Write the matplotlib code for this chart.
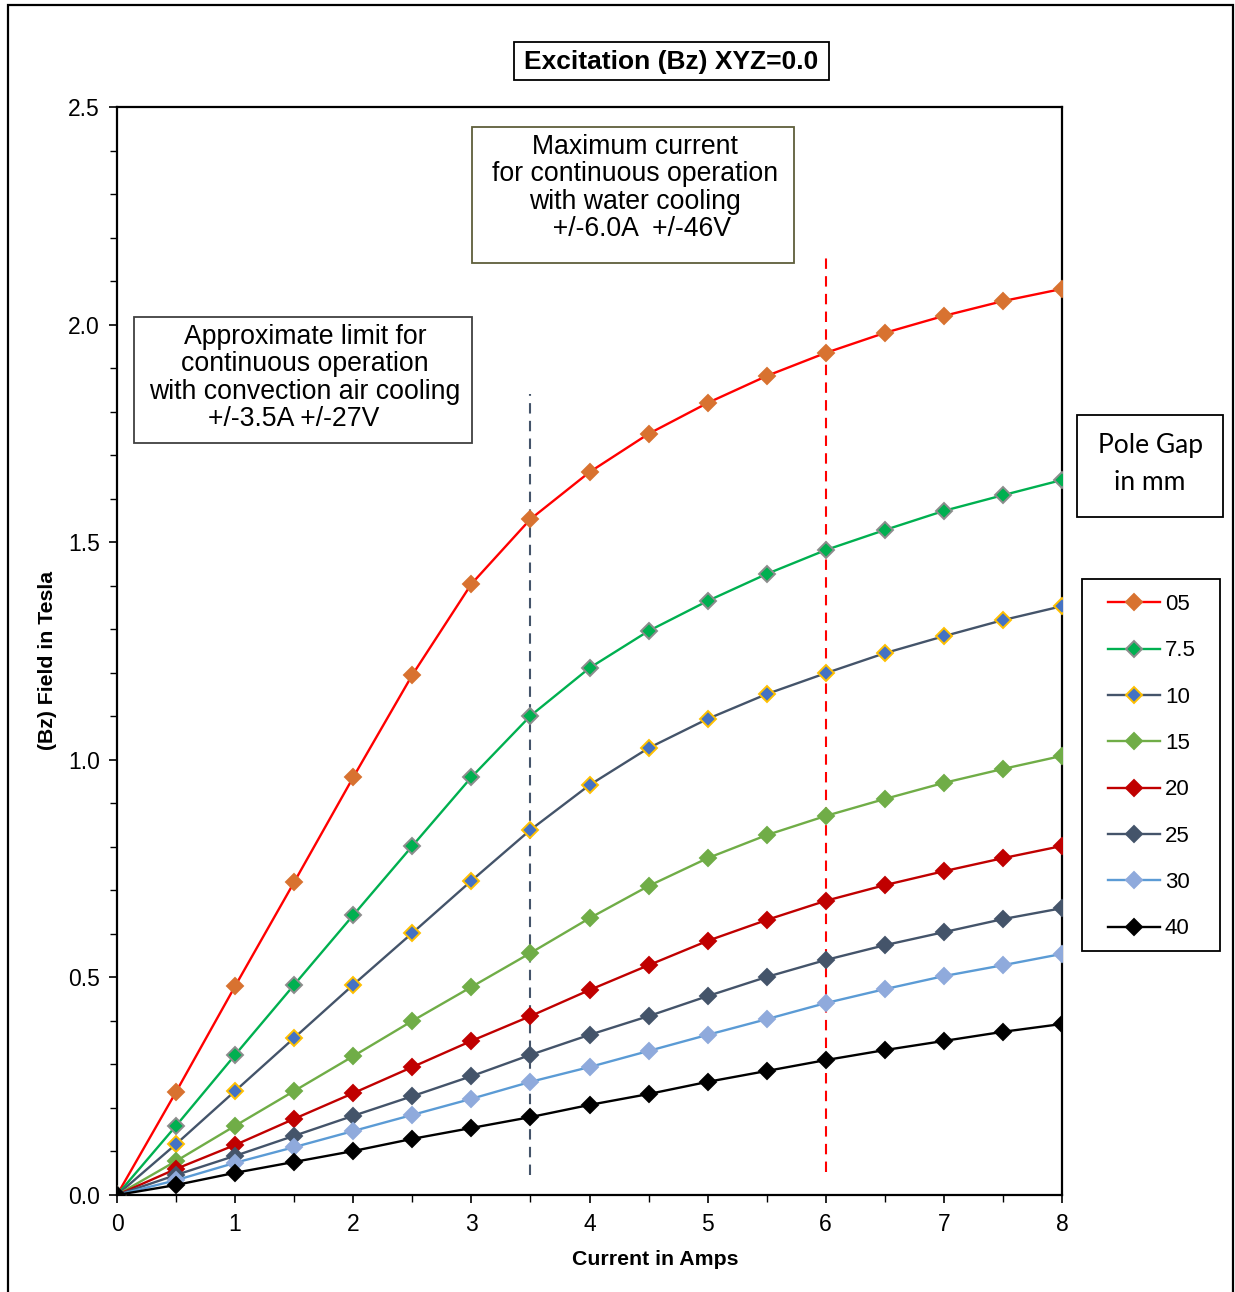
import matplotlib
matplotlib.use('Agg')
import matplotlib.pyplot as plt
from matplotlib.patches import Rectangle
from matplotlib.ticker import MultipleLocator, FormatStrFormatter

plt.rcParams['font.family'] = ['Liberation Sans', 'DejaVu Sans']

# Current in amps, sampled every 0.5 A
current = [0, 0.5, 1, 1.5, 2, 2.5, 3, 3.5, 4, 4.5, 5, 5.5, 6, 6.5, 7, 7.5, 8]

# Field in tesla for each pole gap (mm)
gap_labels = ['05', '7.5', '10', '15', '20', '25', '30', '40']
bz_05 = [0, 0.237, 0.480, 0.719, 0.960, 1.195, 1.404, 1.553, 1.661, 1.749, 1.820, 1.882, 1.935, 1.981, 2.020, 2.054, 2.082]
bz_7p5 = [0, 0.159, 0.322, 0.483, 0.643, 0.802, 0.960, 1.101, 1.211, 1.296, 1.365, 1.427, 1.482, 1.528, 1.572, 1.608, 1.643]
bz_10 = [0, 0.117, 0.239, 0.361, 0.483, 0.602, 0.722, 0.839, 0.942, 1.027, 1.094, 1.151, 1.199, 1.245, 1.284, 1.321, 1.353]
bz_15 = [0, 0.078, 0.159, 0.239, 0.319, 0.400, 0.478, 0.556, 0.636, 0.710, 0.774, 0.827, 0.871, 0.910, 0.947, 0.979, 1.009]
bz_20 = [0, 0.060, 0.115, 0.175, 0.234, 0.294, 0.354, 0.411, 0.471, 0.528, 0.584, 0.632, 0.676, 0.712, 0.744, 0.774, 0.802]
bz_25 = [0, 0.046, 0.090, 0.136, 0.182, 0.227, 0.273, 0.322, 0.368, 0.411, 0.457, 0.501, 0.540, 0.574, 0.604, 0.634, 0.659]
bz_30 = [0, 0.034, 0.074, 0.110, 0.147, 0.184, 0.221, 0.260, 0.294, 0.331, 0.368, 0.404, 0.441, 0.473, 0.503, 0.528, 0.554]
bz_40 = [0, 0.023, 0.051, 0.076, 0.101, 0.129, 0.154, 0.179, 0.207, 0.232, 0.260, 0.285, 0.310, 0.333, 0.354, 0.375, 0.393]
series = [bz_05, bz_7p5, bz_10, bz_15, bz_20, bz_25, bz_30, bz_40]

# (line colour, marker fill, marker edge)
styles = [
    ('#FF0000', '#D87230', '#D87230'),
    ('#00B050', '#00B050', '#8C8C8C'),
    ('#44546A', '#4472C4', '#FFC000'),
    ('#70AD47', '#70AD47', '#70AD47'),
    ('#C00000', '#C00000', '#C00000'),
    ('#44546A', '#44546A', '#44546A'),
    ('#5B9BD5', '#8FAADC', '#8FAADC'),
    ('#000000', '#000000', '#000000'),
]

# limit markers: (current, y bottom, y top, colour)
limit_aircool = (3.5, 0.046, 1.84, '#44546A')
limit_water = (6.0, 0.053, 2.165, '#FF0000')

W, H = 1235, 1292
fig = plt.figure(figsize=(W / 100, H / 100), dpi=100)
ax = fig.add_axes([117 / W, 1 - 1195 / H, (1062 - 117) / W, (1195 - 107) / H])

for vals, lab, (lc, mf, me) in zip(series, gap_labels, styles):
    ax.plot(current, vals, color=lc, lw=1.7, marker='D', markersize=8,
            markerfacecolor=mf, markeredgecolor=me, markeredgewidth=1.4,
            label=lab, zorder=3)

for xv, y0, y1, c in [limit_aircool, limit_water]:
    ax.plot([xv, xv], [y0, y1], color=c, lw=1.5, ls=(0, (5, 3.5)), zorder=2)

ax.set_xlim(0, 8)
ax.set_ylim(0, 2.5)
ax.xaxis.set_major_locator(MultipleLocator(1))
ax.xaxis.set_minor_locator(MultipleLocator(0.5))
ax.yaxis.set_major_locator(MultipleLocator(0.5))
ax.yaxis.set_minor_locator(MultipleLocator(0.1))
ax.yaxis.set_major_formatter(FormatStrFormatter('%.1f'))
ax.tick_params(which='major', direction='out', length=6, width=1.2, labelsize=16.5, pad=7)
ax.tick_params(which='minor', direction='out', length=5, width=1.0)
ax.tick_params(axis='y', which='major', pad=6.5)
for sp in ax.spines.values():
    sp.set_linewidth(1.6)
    sp.set_color('black')

ax.set_xlabel('Current in Amps', fontsize=15.3, fontweight='bold')
ax.set_ylabel('(Bz) Field in Tesla', fontsize=15.3, fontweight='bold')
ax.xaxis.set_label_coords((655 - 117) / 945, (1195 - 1250) / 1088)
ax.yaxis.set_label_coords((57 - 117) / 945, (1195 - 660) / 1088)


def fig_box(x0, y0, x1, y1, ec, lw=1.3):
    r = Rectangle((x0 / W, 1 - y1 / H), (x1 - x0) / W, (y1 - y0) / H,
                  transform=fig.transFigure, fill=True, facecolor='white',
                  edgecolor=ec, linewidth=lw, zorder=5)
    fig.patches.append(r)


# legend frame drawn by hand so its size matches the original
fig_box(1082, 579, 1220, 951, 'black')
handles, labels = ax.get_legend_handles_labels()
leg = fig.legend(handles, labels, loc='upper left',
                 bbox_to_anchor=(1108 / W, 1 - 594 / H), borderaxespad=0,
                 borderpad=0, fontsize=16, handlelength=2.34,
                 handletextpad=0.22, labelspacing=1.14, frameon=False)
leg.set_zorder(8)

# outer frame
fig.patches.append(Rectangle((8 / W, -0.01), (1233 - 8) / W, 1.01 - 5 / H,
                             transform=fig.transFigure, fill=False,
                             edgecolor='black', linewidth=1.6))

fig_box(514, 42, 829, 80, 'black')
fig.text(671 / W, 1 - 62 / H, 'Excitation (Bz) XYZ=0.0', fontsize=19,
         fontweight='bold', ha='center', va='center', zorder=6)

fig_box(472, 127, 794, 263, '#5E5E3A')
fig.text(635 / W, 1 - 188 / H,
         'Maximum current\nfor continuous operation\nwith water cooling\n  +/-6.0A  +/-46V',
         fontsize=19.2, ha='center', va='center', multialignment='center',
         linespacing=1.07, zorder=6)

fig_box(134, 317, 472, 443, '#404040')
fig.text(305 / W, 1 - 378 / H,
         'Approximate limit for\ncontinuous operation\nwith convection air cooling\n+/-3.5A +/-27V   ',
         fontsize=19.2, ha='center', va='center', multialignment='center',
         linespacing=1.07, zorder=6)

fig_box(1077, 415, 1223, 517, 'black')
fig.text(1150 / W, 1 - 464 / H, 'Pole Gap\nin mm', fontsize=19,
         family=['Lato', 'DejaVu Sans'], ha='center', va='center',
         multialignment='center', linespacing=1.63, zorder=6)

fig.savefig('out.png', dpi=100)
